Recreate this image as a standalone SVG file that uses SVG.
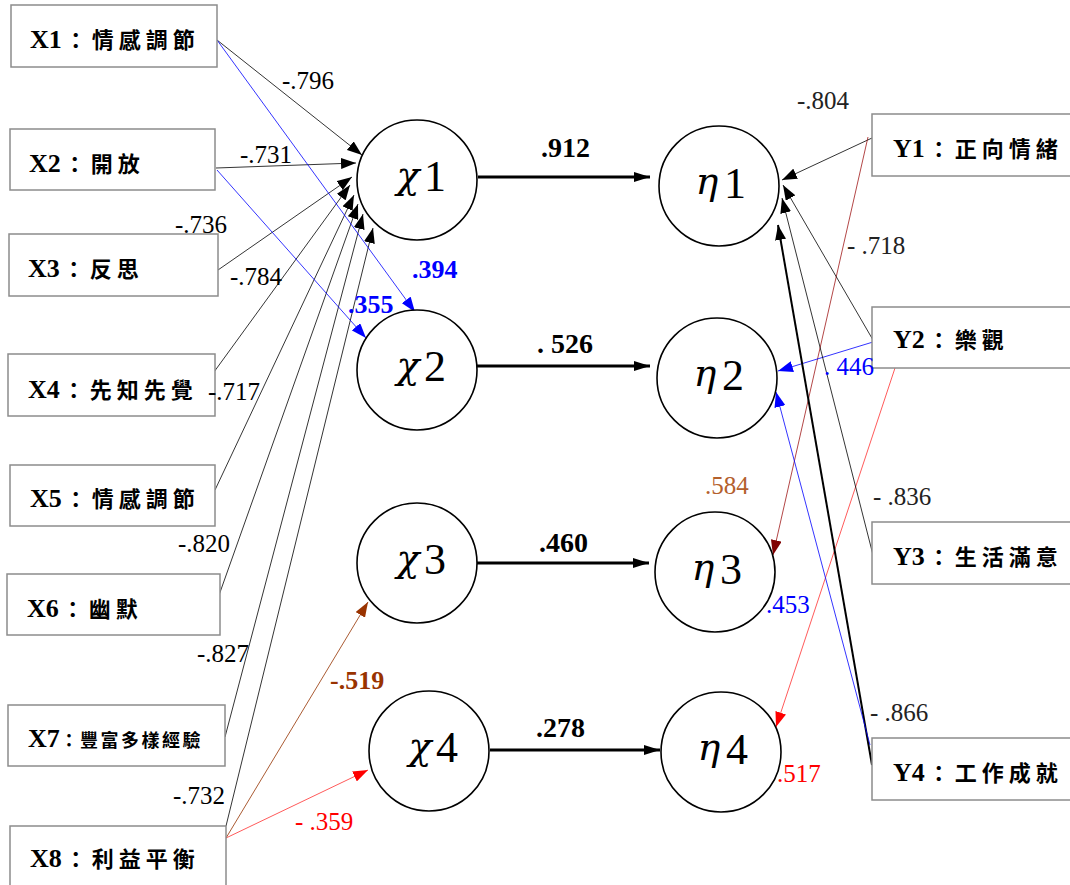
<svg xmlns="http://www.w3.org/2000/svg" width="1070" height="885" viewBox="0 0 1070 885">
<style>
.box{fill:#fff;stroke:#8c8c8c;stroke-width:1.5}
.node{fill:#fff;stroke:#000;stroke-width:1.6}
.lbl{font-family:"Liberation Serif","Noto Sans CJK TC",serif;font-weight:bold;font-size:22px;fill:#000}
.lat{font-size:26px;font-family:"Liberation Serif",serif}
.cjk{font-family:"Noto Sans CJK TC",sans-serif;letter-spacing:5px}
.num{font-family:"Liberation Serif",serif;font-size:25px;fill:#000}
.bnum{font-family:"Liberation Serif",serif;font-size:26px;font-weight:bold;fill:#000}
.cnum{font-family:"Liberation Serif",serif;font-size:28px;font-weight:bold;fill:#000}
.gk{font-family:"DejaVu Serif",serif;font-style:italic;font-size:38px;fill:#000}
.dg{font-family:"Liberation Serif",serif;font-size:44px;fill:#000}
.k{stroke:#000;stroke-width:0.8;fill:none}
.kb{stroke:#000;stroke-width:3;fill:none}
.bl{stroke:#0000ff;stroke-width:0.8;fill:none}
.rd{stroke:#ff3030;stroke-width:0.8;fill:none}
.dr{stroke:#a01818;stroke-width:0.8;fill:none}
.br{stroke:#a0481c;stroke-width:0.9;fill:none}
</style>
<defs>
<marker id="aK" markerUnits="userSpaceOnUse" markerWidth="15" markerHeight="11" refX="15" refY="5.5" orient="auto"><path d="M0,0 L15,5.5 L0,11 z" fill="#000"/></marker>
<marker id="aKh" markerUnits="userSpaceOnUse" markerWidth="16" markerHeight="10" refX="16" refY="5" orient="auto"><path d="M0,0 L16,5 L0,10 z" fill="#000"/></marker>
<marker id="aB" markerUnits="userSpaceOnUse" markerWidth="15" markerHeight="11" refX="15" refY="5.5" orient="auto"><path d="M0,0 L15,5.5 L0,11 z" fill="#0000ff"/></marker>
<marker id="aR" markerUnits="userSpaceOnUse" markerWidth="15" markerHeight="11" refX="15" refY="5.5" orient="auto"><path d="M0,0 L15,5.5 L0,11 z" fill="#ff0000"/></marker>
<marker id="aD" markerUnits="userSpaceOnUse" markerWidth="15" markerHeight="11" refX="15" refY="5.5" orient="auto"><path d="M0,0 L15,5.5 L0,11 z" fill="#800000"/></marker>
<marker id="aN" markerUnits="userSpaceOnUse" markerWidth="15" markerHeight="11" refX="15" refY="5.5" orient="auto"><path d="M0,0 L15,5.5 L0,11 z" fill="#993300"/></marker>
</defs>
<rect width="1070" height="885" fill="#fff"/>

<g id="connectors">
<path class="k" d="M217,40 L362,155" marker-end="url(#aK)"/>
<path class="k" d="M216,168 L356,163" marker-end="url(#aK)"/>
<path class="k" d="M218,270 L352,177" marker-end="url(#aK)"/>
<path class="k" d="M214,372 L350,185" marker-end="url(#aK)"/>
<path class="k" d="M215,490 L354,195" marker-end="url(#aK)"/>
<path class="k" d="M218,598 L358,204" marker-end="url(#aK)"/>
<path class="k" d="M225,737 L363,214" marker-end="url(#aK)"/>
<path class="k" d="M226,826 L373,228" marker-end="url(#aK)"/>
<path class="bl" d="M217,40 L415,312" marker-end="url(#aB)"/>
<path class="bl" d="M217,170 L366,338" marker-end="url(#aB)"/>
<path class="br" d="M226,838 L368,602" marker-end="url(#aN)"/>
<path class="rd" d="M226,838 L368,770" marker-end="url(#aR)"/>
<path class="kb" d="M478,177 L650,177" marker-end="url(#aKh)"/>
<path class="kb" d="M477,366 L650,366" marker-end="url(#aKh)"/>
<path class="kb" d="M477,563 L649,563" marker-end="url(#aKh)"/>
<path class="kb" d="M490,750 L660,750" marker-end="url(#aKh)"/>
<path class="k" d="M872,138 L782,180" marker-end="url(#aK)"/>
<path class="dr" d="M868,137 L773,555" marker-end="url(#aD)"/>
<path class="k" d="M873,340 L783,185" marker-end="url(#aK)"/>
<path class="bl" d="M873,342 L778,371" marker-end="url(#aB)"/>
<path class="rd" d="M895,368 L776,727" marker-end="url(#aR)"/>
<path class="k" d="M873,555 L782,198" marker-end="url(#aK)"/>
<path style="stroke:#000;stroke-width:2;fill:none" d="M872,765 L778,225" marker-end="url(#aK)"/>
<path class="bl" d="M870,745 L776,392" marker-end="url(#aB)"/>
</g>

<g id="X1"><rect class="box" x="11" y="5" width="206" height="62"/><text class="lbl" x="30" y="48"><tspan class="lat">X1</tspan><tspan class="cjk" dx="3">：情感調節</tspan></text></g>
<g id="X2"><rect class="box" x="10" y="129" width="205" height="61"/><text class="lbl" x="29" y="172"><tspan class="lat">X2</tspan><tspan class="cjk" dx="3">：開放</tspan></text></g>
<g id="X3"><rect class="box" x="9" y="234" width="209" height="62"/><text class="lbl" x="28" y="277"><tspan class="lat">X3</tspan><tspan class="cjk" dx="3">：反思</tspan></text></g>
<g id="X4"><rect class="box" x="8" y="354" width="207" height="62"/><text class="lbl" x="28" y="398"><tspan class="lat">X4</tspan><tspan class="cjk" dx="3">：先知先覺</tspan></text></g>
<g id="X5"><rect class="box" x="10" y="465" width="205" height="61"/><text class="lbl" x="30" y="507"><tspan class="lat">X5</tspan><tspan class="cjk" dx="3">：情感調節</tspan></text></g>
<g id="X6"><rect class="box" x="7" y="574" width="213" height="61"/><text class="lbl" x="27" y="617"><tspan class="lat">X6</tspan><tspan class="cjk" dx="3">：幽默</tspan></text></g>
<g id="X7"><rect class="box" x="8" y="705" width="217" height="61"/><text class="lbl" x="28" y="747"><tspan class="lat">X7</tspan><tspan class="cjk" x="60" font-size="18" style="letter-spacing:0">：</tspan><tspan class="cjk" x="80" font-size="18" style="letter-spacing:2.5px">豐富多樣經驗</tspan></text></g>
<g id="X8"><rect class="box" x="10" y="826" width="216" height="64"/><text class="lbl" x="30" y="867"><tspan class="lat">X8</tspan><tspan class="cjk" dx="3">：利益平衡</tspan></text></g>

<g id="chi1"><circle class="node" cx="417" cy="180" r="60"/><text class="gk" x="408" y="188" text-anchor="middle">χ</text><text class="dg" x="435" y="191" text-anchor="middle">1</text></g>
<g id="chi2"><circle class="node" cx="417" cy="370" r="60"/><text class="gk" x="408" y="378" text-anchor="middle">χ</text><text class="dg" x="435" y="381" text-anchor="middle">2</text></g>
<g id="chi3"><circle class="node" cx="417" cy="563" r="60"/><text class="gk" x="408" y="571" text-anchor="middle">χ</text><text class="dg" x="435" y="574" text-anchor="middle">3</text></g>
<g id="chi4"><circle class="node" cx="429" cy="751" r="60"/><text class="gk" x="420" y="759" text-anchor="middle">χ</text><text class="dg" x="447" y="762" text-anchor="middle">4</text></g>

<g id="eta1"><circle class="node" cx="719" cy="186" r="60"/><text class="gk" x="707" y="194" text-anchor="middle">η</text><text class="dg" x="735" y="198" text-anchor="middle">1</text></g>
<g id="eta2"><circle class="node" cx="717" cy="378" r="60"/><text class="gk" x="705" y="386" text-anchor="middle">η</text><text class="dg" x="733" y="390" text-anchor="middle">2</text></g>
<g id="eta3"><circle class="node" cx="715" cy="572" r="60"/><text class="gk" x="703" y="580" text-anchor="middle">η</text><text class="dg" x="731" y="584" text-anchor="middle">3</text></g>
<g id="eta4"><circle class="node" cx="721" cy="752" r="60"/><text class="gk" x="709" y="760" text-anchor="middle">η</text><text class="dg" x="737" y="764" text-anchor="middle">4</text></g>

<g id="Y1"><rect class="box" x="872" y="114" width="210" height="62"/><text class="lbl" x="893" y="157"><tspan class="lat">Y1</tspan><tspan class="cjk" dx="3">：正向情緒</tspan></text></g>
<g id="Y2"><rect class="box" x="872" y="307" width="210" height="61"/><text class="lbl" x="893" y="348"><tspan class="lat">Y2</tspan><tspan class="cjk" dx="3">：樂觀</tspan></text></g>
<g id="Y3"><rect class="box" x="872" y="522" width="210" height="62"/><text class="lbl" x="893" y="565"><tspan class="lat">Y3</tspan><tspan class="cjk" dx="3">：生活滿意</tspan></text></g>
<g id="Y4"><rect class="box" x="872" y="738" width="210" height="62"/><text class="lbl" x="893" y="781"><tspan class="lat">Y4</tspan><tspan class="cjk" dx="3">：工作成就</tspan></text></g>

<g id="edge-labels">
<text class="num" x="282" y="89">-.796</text>
<text class="num" x="240" y="163">-.731</text>
<text class="num" x="175" y="233">-.736</text>
<text class="num" x="230" y="285">-.784</text>
<text class="num" x="208" y="400">-.717</text>
<text class="num" x="178" y="552">-.820</text>
<text class="num" x="197" y="662">-.827</text>
<text class="num" x="173" y="804">-.732</text>
<text class="bnum" x="412" y="278" style="fill:#0000ff">.394</text>
<text class="bnum" x="348" y="313" style="fill:#0000ff">.355</text>
<text class="bnum" x="330" y="689" style="fill:#993300">-.519</text>
<text class="num" x="295" y="830" style="fill:#ff0000">- .359</text>
<text class="cnum" x="541" y="157">.912</text>
<text class="cnum" x="537" y="353">. 526</text>
<text class="cnum" x="539" y="552">.460</text>
<text class="cnum" x="536" y="737">.278</text>
<text class="num" x="797" y="109" style="fill:#222">-.804</text>
<text class="num" x="847" y="254" style="fill:#222">- .718</text>
<text class="num" x="824" y="375" style="fill:#0000ff">. 446</text>
<text class="num" x="705" y="494" style="fill:#b4602c">.584</text>
<text class="num" x="766" y="613" style="fill:#0000ff">.453</text>
<text class="num" x="777" y="782" style="fill:#ff0000">.517</text>
<text class="num" x="873" y="505" style="fill:#222">- .836</text>
<text class="num" x="870" y="721" style="fill:#222">- .866</text>
</g>
</svg>
